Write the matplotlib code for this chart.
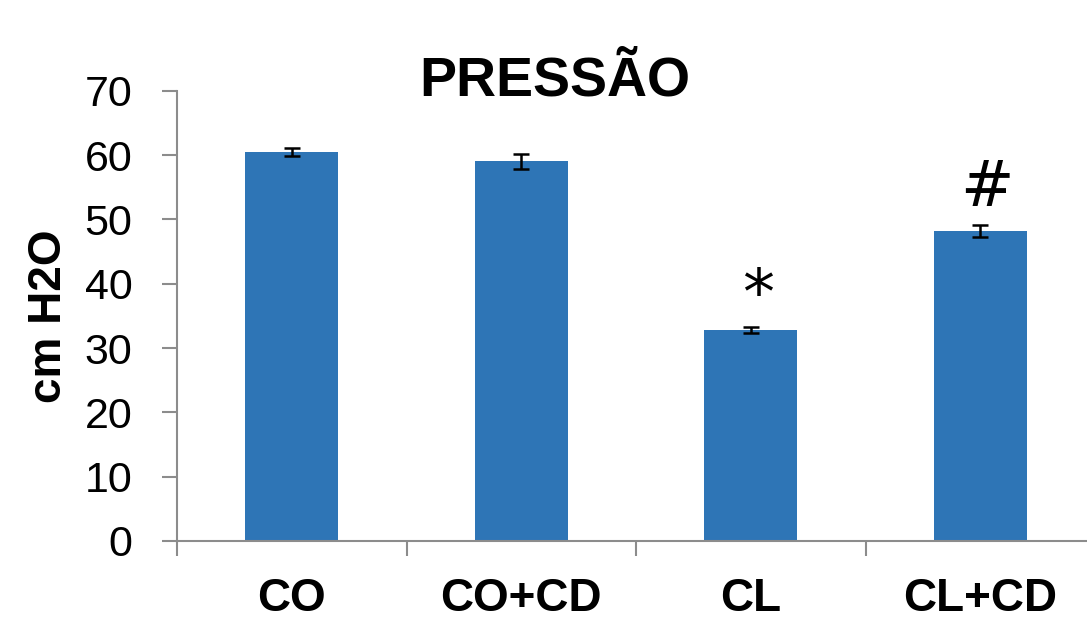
import numpy as np
import matplotlib
matplotlib.use("Agg")
import matplotlib.pyplot as plt

plt.rcParams['font.family'] = ['Liberation Sans', 'DejaVu Sans']

# data
categories = ["CO", "CO+CD", "CL", "CL+CD"]
values     = [60.5, 59.0, 32.8, 48.2]
errors     = [0.65, 1.15, 0.45, 1.0]
marks      = {"CL": ("*", 35.3), "CL+CD": ("#", 52.1)}
y_ticks    = [0, 10, 20, 30, 40, 50, 60, 70]

BAR_COLOR  = "#2E75B6"
AXIS_COLOR = "#8C8C8C"

fig = plt.figure(figsize=(10.87, 6.22), dpi=100)
ax = fig.add_axes([177 / 1087, 81 / 622, 1 - 177 / 1087, 450.3 / 622])

x = np.arange(len(categories))
ax.bar(x, values, width=0.404, color=BAR_COLOR, zorder=2)
ax.errorbar(x, values, yerr=errors, fmt="none", ecolor="black",
            elinewidth=1.8, capsize=6, capthick=1.8, zorder=3)

ax.set_xlim(-0.5, 3.465)
ax.set_ylim(0, 70)
ax.set_yticks(y_ticks)
ax.set_yticklabels([str(v) for v in y_ticks], fontsize=31)

# category boundaries as major ticks, names on minor ticks
ax.set_xticks(np.arange(len(categories)) - 0.5)
ax.set_xticklabels([])
ax.set_xticks(x, minor=True)
ax.set_xticklabels(categories, minor=True, fontsize=33, fontweight="bold")
ax.tick_params(axis="x", which="major", direction="out", length=10.5,
               width=1.5, color=AXIS_COLOR)
ax.tick_params(axis="x", which="minor", length=0, pad=26)
ax.tick_params(axis="y", direction="out", length=11, width=1.5,
               color=AXIS_COLOR, pad=21)

for s in ["top", "right"]:
    ax.spines[s].set_visible(False)
for s in ["left", "bottom"]:
    ax.spines[s].set_color(AXIS_COLOR)
    ax.spines[s].set_linewidth(1.5)

for cat, (sym, yv) in marks.items():
    i = categories.index(cat)
    ax.text(i + 0.03, yv, sym, ha="center", va="baseline", fontsize=46,
            family="DejaVu Sans", zorder=4)

fig.text(49 / 1087, 1 - 316 / 622, "cm H2O", rotation=90, ha="center",
         va="center", fontsize=33, fontweight="bold")
fig.text(555 / 1087, 1 - 95 / 622, "PRESSÃO", ha="center", va="baseline",
         fontsize=40, fontweight="bold")

fig.savefig("out.png", dpi=100)
